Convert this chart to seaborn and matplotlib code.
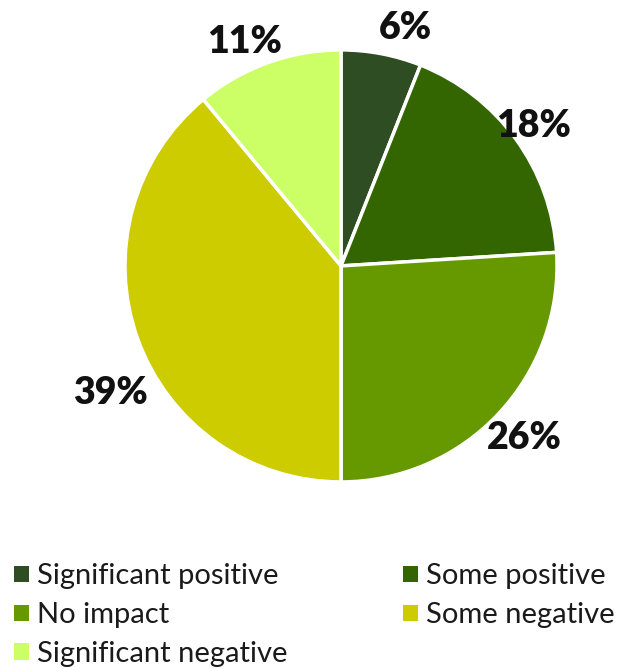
import numpy as np
import matplotlib
matplotlib.use("Agg")
import matplotlib.pyplot as plt
import seaborn as sns
from matplotlib.patches import Patch

categories = ["Significant positive", "Some positive", "No impact",
              "Some negative", "Significant negative"]
shares = [6, 18, 26, 39, 11]
colors = ["#2e4d22", "#336600", "#669900", "#cccc00", "#ccff66"]

sns.set_theme(style="white")
plt.rcParams["font.family"] = ["Lato", "DejaVu Sans"]

fig = plt.figure(figsize=(6.41, 6.70), dpi=100)
ax = fig.add_axes([0.195, 0.2806, 0.674, 0.645])

wedges, _ = ax.pie(shares, colors=colors, startangle=90, counterclock=False,
                   radius=1.0,
                   wedgeprops=dict(edgecolor="white", linewidth=2.5))
ax.set_xlim(-1, 1)
ax.set_ylim(-1, 1)
ax.set_aspect("equal")

# value labels around the rim
label_dist = [1.14, 1.10, 1.166, 1.22, 1.128]
label_nudge = [-4.3, 0, 0, 9, 3.4]
for w, v, d, n in zip(wedges, shares, label_dist, label_nudge):
    mid = np.deg2rad((w.theta1 + w.theta2) / 2 + n)
    ax.text(d * np.cos(mid), d * np.sin(mid), f"{v}%",
            ha="center", va="center", fontsize=27, fontweight="heavy",
            color="#111111")

order = [0, 2, 4, 1, 3]
handles = [Patch(facecolor=colors[i], edgecolor="none") for i in order]
labels = [categories[i] for i in order]
leg = fig.legend(handles, labels, loc="upper left",
                 bbox_to_anchor=(0.022, 0.159), ncol=2, frameon=False,
                 fontsize=21, handlelength=0.5, handleheight=0.5,
                 handletextpad=0.3, columnspacing=3.95,
                 labelspacing=0.44, borderaxespad=0, borderpad=0)
for t in leg.get_texts():
    t.set_color("#1a1a1a")

fig.savefig("out.png", dpi=100, facecolor="white")
